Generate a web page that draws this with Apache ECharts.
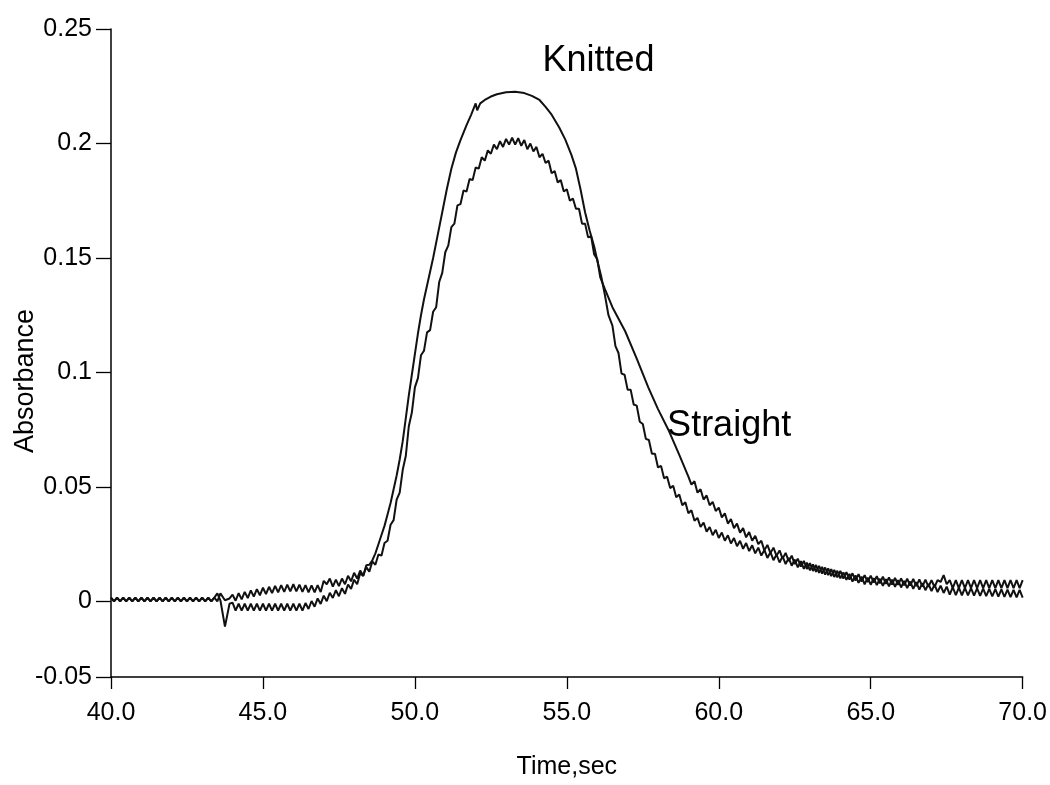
<!DOCTYPE html>
<html>
<head>
<meta charset="utf-8">
<script src="https://cdn.jsdelivr.net/npm/echarts@6/dist/echarts.min.js"></script>
<style>html,body{margin:0;padding:0;background:#fff}#c{width:1050px;height:785px}</style>
</head>
<body>
<div id="c"></div>
<script>
// ---- data (time in s, absorbance) ----
const xTickValues = [40, 45, 50, 55, 60, 65, 70];
const xTickLabels = ['40.0','45.0','50.0','55.0','60.0','65.0','70.0'];
// the original's bottom interval is drawn shorter than the others; its -0.05 tick sits at this value
const yBottom = -0.033;
const yTickValues = [yBottom, 0, 0.05, 0.1, 0.15, 0.2, 0.25];
const yTickLabels = ['-0.05','0','0.05','0.1','0.15','0.2','0.25'];
const seriesNames = ['Knitted','Straight'];

const baseline = [[40.0,.0017],[40.1,0],[40.2,.0017],[40.3,0],[40.4,.0017],[40.5,0],[40.6,.0017],[40.7,0],[40.8,.0017],[40.9,0],[41.0,.0017],[41.1,0],[41.2,.0017],[41.3,0],[41.4,.0017],[41.5,0],[41.6,.0017],[41.7,0],[41.8,.0017],[41.9,0],[42.0,.0017],[42.1,0],[42.2,.0017],[42.3,0],[42.4,.0017],[42.5,0],[42.6,.0017],[42.7,0],[42.8,.0017],[42.9,0],[43.0,.0017],[43.1,0],[43.2,.0017],[43.3,0],[43.4,.0017]];

const knittedRest = [[43.5,.0035],[43.6,.0005],[43.75,-.011],[43.9,-.001],[44.0,-.0005],[44.1,-.004],[44.2,-.001],[44.3,-.004],[44.4,-.001],[44.5,-.004],[44.6,-.001],[44.7,-.004],[44.8,-.001],[44.9,-.004],[45.0,-.001],[45.1,-.004],[45.2,-.001],[45.3,-.004],[45.4,-.001],[45.5,-.004],[45.6,-.001],[45.7,-.004],[45.8,-.001],[45.9,-.004],[46.0,-.001],[46.1,-.004],[46.2,-.001],[46.3,-.004],[46.4,-.0007],[46.5,-.0033],[46.6,.0002],[46.7,-.0023],[46.8,.0013],[46.9,-.0011],[47.0,.0025],[47.1,.0001],[47.2,.0038],[47.3,.0015],[47.4,.0049],[47.5,.0023],[47.6,.0058],[47.7,.0033],[47.8,.0074],[47.9,.0055],[48.0,.0095],[48.1,.0075],[48.2,.0123],[48.3,.0111],[48.4,.0158],
[48.5,.016],[48.6,.018],[48.7,.021],[48.8,.025],[48.9,.029],[49.0,.033],[49.1,.038],[49.2,.043],[49.3,.049],[49.4,.055],[49.5,.062],[49.6,.07],[49.7,.08],[49.8,.09],[49.9,.099],[50.0,.108],[50.1,.117],[50.2,.125],[50.3,.132],[50.4,.138],[50.5,.144],[50.6,.15],[50.75,.16],[50.9,.17],[51.05,.18],[51.2,.189],[51.35,.196],[51.5,.2015],[51.7,.208],[51.85,.2125],[52.0,.2175],[52.05,.2145],[52.15,.2175],[52.3,.219],[52.5,.2205],[52.7,.2215],[53.0,.2224],[53.3,.2226],[53.6,.222],[53.85,.2208],[54.1,.219],[54.3,.216],[54.5,.2126],[54.75,.207],[54.95,.2017],[55.15,.195],[55.3,.189],[55.45,.18],[55.6,.17],[55.75,.162],[55.9,.155],[56.0,.149],[56.13,.142],[56.25,.134],[56.37,.125],
[56.5,.1205],[56.6,.1115],[56.7,.1085],[56.8,.0995],[56.9,.099],[57.0,.0925],[57.1,.0925],[57.2,.086],[57.3,.0855],[57.4,.0785],[57.5,.0775],[57.6,.071],[57.7,.0705],[57.8,.0645],[57.9,.0645],[58.0,.0585],[58.1,.0592],[58.2,.0538],[58.3,.0545],[58.4,.0495],[58.5,.0505],[58.6,.0455],[58.7,.0467],[58.8,.042],[58.9,.0433],[59.0,.0385],[59.1,.0398],[59.2,.0352],[59.3,.0365],[59.4,.0325],[59.5,.0345],[59.6,.0305],[59.7,.0325],[59.8,.0289],[59.9,.0313],[60.0,.0277],[60.1,.0301],[60.2,.0265],[60.3,.0289],[60.4,.0253],[60.5,.0277],[60.6,.0241],[60.7,.0265],[60.8,.023],[60.9,.0255],[61.0,.022],[61.1,.0245],[61.2,.021],[61.3,.0235],[61.4,.02],[61.5,.0225],[61.6,.019],[61.7,.0215],[61.8,.018],[61.9,.0205],[62.0,.017],[62.1,.0197],[62.2,.0163],[62.3,.019],[62.4,.0156],[62.5,.0183],[62.6,.0149],[62.7,.0176],[62.8,.0142],[62.9,.0169],[63.0,.0136],[63.1,.0162],[63.2,.0129],[63.3,.0155],[63.4,.0122],[63.5,.0148],[63.6,.0115],[63.7,.0141],[63.8,.0107],[63.9,.0134],[64.0,.0101],[64.1,.0127],[64.2,.0094],[64.3,.012],[64.4,.0087],[64.5,.0114],[64.6,.0081],[64.7,.0108],[64.8,.0075],[64.9,.0104],[65.0,.0073],[65.1,.0102],[65.2,.0071],[65.3,.0099],[65.4,.0068],[65.5,.0097],[65.6,.0066],[65.7,.0095],[65.8,.0064],[65.9,.0093],[66.0,.0061],[66.1,.009],[66.2,.0058],[66.3,.0087],[66.4,.0055],[66.5,.0084],[66.6,.0052],[66.7,.008],[66.8,.0049],[66.9,.0077],[67.0,.0045],[67.1,.0073],[67.2,.0041],[67.3,.0069],[67.4,.0037],[67.5,.0065],[67.6,.003],[67.7,.0062],[67.8,.0028],[67.9,.006],[68.0,.0027],[68.1,.0059],[68.2,.0026],[68.3,.0058],[68.4,.0025],[68.5,.0057],[68.6,.0024],[68.7,.0056],[68.8,.0023],[68.9,.0055],[69.0,.0022],[69.1,.0054],[69.2,.0021],[69.3,.0053],[69.4,.002],[69.5,.0052],[69.6,.0019],[69.7,.0051],[69.8,.0018],[69.9,.005],[70.0,.0017]];

const straightRest = [[43.5,0],[43.6,.0035],[43.75,.0005],[43.9,.0013],[44.0,.003],[44.1,.0003],[44.2,.0036],[44.3,.0009],[44.4,.0042],[44.5,.0015],[44.6,.0048],[44.7,.0021],[44.8,.0054],[44.9,.0027],[45.0,.006],[45.1,.0032],[45.2,.0064],[45.3,.0036],[45.4,.0068],[45.5,.004],[45.6,.0071],[45.7,.0042],[45.8,.0073],[45.9,.0044],[46.0,.0075],[46.1,.0044],[46.2,.0073],[46.3,.0042],[46.4,.0071],[46.5,.004],[46.6,.007],[46.7,.004],[46.8,.0071],[46.9,.0041],[47.0,.009],[47.1,.0075],[47.2,.01],[47.3,.0065],[47.4,.0095],[47.5,.0067],[47.6,.01],[47.7,.0075],[47.8,.0112],[47.9,.0088],[48.0,.0125],[48.1,.01],[48.2,.0135],[48.3,.0112],[48.4,.015],[48.5,.013],[48.6,.0175],[48.7,.016],[48.8,.0205],[48.9,.02],[49.0,.0255],[49.1,.0265],[49.2,.0335],[49.3,.0355],[49.4,.0445],[49.5,.0475],[49.6,.0575],[49.7,.0635],[49.8,.0765],[49.9,.0825],[50.0,.0935],[50.1,.0975],[50.2,.1075],[50.3,.1095],[50.4,.1175],[50.5,.1185],[50.6,.1265],[50.7,.1285],[50.8,.1395],[50.9,.1435],[51.0,.1525],[51.1,.1555],[51.2,.1635],[51.3,.165],[51.4,.173],[51.5,.1735],[51.6,.1795],[51.7,.179],[51.8,.1845],[51.9,.184],[52.0,.1895],[52.1,.189],[52.2,.194],[52.3,.1925],[52.4,.197],[52.5,.1955],[52.6,.1995],[52.7,.1975],[52.8,.201],[52.9,.1985],[53.0,.202],[53.1,.1995],[53.2,.2025],[53.3,.1995],[53.4,.2023],[53.5,.199],[53.6,.2015],[53.7,.1975],[53.8,.2],[53.9,.1965],[54.0,.1985],[54.1,.194],[54.2,.1955],[54.3,.1915],[54.4,.1925],[54.5,.187],[54.6,.188],[54.7,.183],[54.8,.184],[54.9,.179],[55.0,.18],[55.1,.175],[55.2,.176],[55.3,.1715],[55.4,.1715],[55.5,.165],[55.6,.165],[55.7,.159],[55.8,.1595],[55.9,.1515],[56.0,.1495],[56.1,.1415],
[56.25,.1365],[56.5,.1285],[56.92,.118],[57.3,.106],[57.68,.0935],[58.0,.084],[58.34,.075],[58.7,.064],[59.0,.0545],
[59.1,.051],[59.2,.0525],[59.3,.0475],[59.4,.049],[59.5,.0445],[59.6,.0463],[59.7,.042],[59.8,.0435],[59.9,.0395],[60.0,.041],[60.1,.0367],[60.2,.0385],[60.3,.034],[60.4,.036],[60.5,.032],[60.6,.034],[60.7,.03],[60.8,.032],[60.9,.028],[61.0,.0303],[61.1,.0265],[61.2,.0287],[61.3,.025],[61.4,.0265],[61.5,.0223],[61.6,.0247],[61.7,.0211],[61.8,.0235],[61.9,.0199],[62.0,.0223],[62.1,.0187],[62.2,.0212],[62.3,.0176],[62.4,.02],[62.5,.0163],[62.6,.0187],[62.7,.0152],[62.8,.0177],[62.9,.0142],[63.0,.0167],[63.1,.0133],[63.2,.0159],[63.3,.0125],[63.4,.0151],[63.5,.0117],[63.6,.0144],[63.7,.0111],[63.8,.0138],[63.9,.0105],[64.0,.0133],[64.1,.01],[64.2,.0128],[64.3,.0095],[64.4,.0123],[64.5,.0091],[64.6,.0119],[64.7,.0087],[64.8,.0115],[64.9,.0084],[65.0,.0113],[65.1,.0082],[65.2,.011],[65.3,.0079],[65.4,.0108],[65.5,.0077],[65.6,.0105],[65.7,.0074],[65.8,.0103],[65.9,.0072],[66.0,.0101],[66.1,.007],[66.2,.0099],[66.3,.0069],[66.4,.0098],[66.5,.0067],[66.6,.0096],[66.7,.0065],[66.8,.0095],[66.9,.0064],[67.0,.0093],[67.1,.0063],[67.2,.0093],[67.3,.0085],[67.4,.0115],[67.5,.0075],[67.6,.0093],[67.7,.0058],[67.8,.0093],[67.9,.0058],[68.0,.0093],[68.1,.0058],[68.2,.0093],[68.3,.0058],[68.4,.0093],[68.5,.0058],[68.6,.0093],[68.7,.0058],[68.8,.0093],[68.9,.0058],[69.0,.0093],[69.1,.0058],[69.2,.0093],[69.3,.0058],[69.4,.0093],[69.5,.0058],[69.6,.0093],[69.7,.0058],[69.8,.0093],[69.9,.0058],[70.0,.0093]];

const knittedData = baseline.concat(knittedRest);
const straightData = baseline.concat(straightRest);
// curve-label anchor points (data coords: left edge, vertical middle)
const labelAnchors = [[54.2, 0.2358], [58.3, 0.0768]];

const FONT = '"Liberation Sans", Arial, Helvetica, sans-serif';
const chart = echarts.init(document.getElementById('c'), null, {renderer: 'canvas'});
const labelOf = (vals, labs) => v => {
  let best = 0;
  vals.forEach((t, i) => { if (Math.abs(t - v) < Math.abs(vals[best] - v)) best = i; });
  return labs[best];
};
const option = {
  animation: false,
  backgroundColor: '#fff',
  grid: {left: 111, right: 26, top: 29, bottom: 95, containLabel: false},
  xAxis: {
    type: 'value', min: 40, max: 70, interval: 5,
    axisLine: {show: true, onZero: false, lineStyle: {color: '#000', width: 1.5}},
    axisTick: {show: true, length: 12, lineStyle: {color: '#000', width: 1.3}},
    axisLabel: {color: '#000', fontSize: 25, fontFamily: FONT, margin: 24,
      formatter: labelOf(xTickValues, xTickLabels)},
    splitLine: {show: false},
    name: 'Time,sec', nameLocation: 'middle', nameGap: 78,
    nameTextStyle: {color: '#000', fontSize: 25, fontFamily: FONT}
  },
  yAxis: {
    type: 'value', min: yBottom, max: 0.25,
    axisLine: {show: true, lineStyle: {color: '#000', width: 1.5}},
    axisTick: {show: true, length: 15, customValues: yTickValues, lineStyle: {color: '#000', width: 1.3}},
    axisLabel: {color: '#000', fontSize: 25, fontFamily: FONT, margin: 19, customValues: yTickValues,
      formatter: labelOf(yTickValues, yTickLabels)},
    splitLine: {show: false}
  },
  series: [
    {name: seriesNames[0], type: 'line', data: knittedData, showSymbol: false, symbol: 'none',
     lineStyle: {color: '#111', width: 2}},
    {name: seriesNames[1], type: 'line', data: straightData, showSymbol: false, symbol: 'none',
     lineStyle: {color: '#111', width: 2}}
  ]
};
chart.setOption(option);
const g = labelAnchors.map((p, i) => {
  const px = chart.convertToPixel({gridIndex: 0}, p);
  return {type: 'text', x: px[0], y: px[1],
    style: {text: seriesNames[i], fill: '#000', font: '36px ' + FONT, textAlign: 'left', textVerticalAlign: 'middle'}};
});
g.push({type: 'text', x: 26, y: 381, rotation: Math.PI / 2,
  style: {text: 'Absorbance', fill: '#000', font: '27px ' + FONT, textAlign: 'center', textVerticalAlign: 'middle'}});
chart.setOption({graphic: g});
</script>
</body>
</html>
